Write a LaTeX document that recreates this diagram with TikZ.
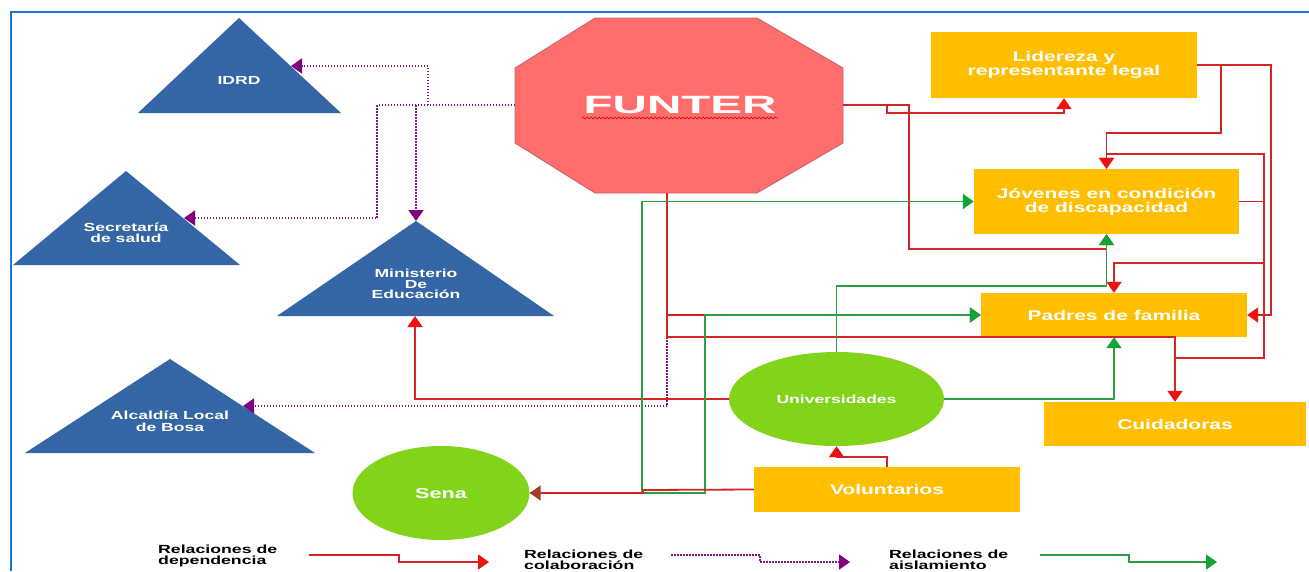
\documentclass[tikz,border=0pt]{standalone}
\usepackage{fontspec}
\newfontfamily\lab[FakeStretch=1.5]{Liberation Sans}
\newfontfamily\funt[FakeStretch=1.9]{Liberation Sans}
\usetikzlibrary{arrows.meta,shapes.geometric,decorations.pathmorphing}
\definecolor{tri}{HTML}{3465A4}
\definecolor{octf}{HTML}{FF6D6D}
\definecolor{octd}{HTML}{C5606A}
\definecolor{gold}{HTML}{FFBF00}
\definecolor{lgreen}{HTML}{81D41A}
\definecolor{depred}{HTML}{D42424}
\definecolor{arrred}{HTML}{EE1111}
\definecolor{isog}{HTML}{2E9E44}
\definecolor{arrg}{HTML}{14A335}
\definecolor{colp}{HTML}{7D1A7D}
\definecolor{arrp}{HTML}{800080}
\definecolor{frameblue}{HTML}{1C75D8}
\definecolor{mixtip}{HTML}{A33C28}
\begin{document}
\begin{tikzpicture}[x=1pt,y=-1pt,
  box/.style={rectangle, fill=gold, inner sep=0pt, text=white, align=center,
    font=\lab\bfseries\fontsize{14}{14}\selectfont},
  blob/.style={ellipse, fill=lgreen, inner sep=0pt, text=white, align=center},
  tlabel/.style={text=white, inner sep=0pt, align=center,
    font=\lab\bfseries\fontsize{11.7}{11}\selectfont},
  leg/.style={text=black, inner sep=0pt, align=left, anchor=north west,
    font=\lab\bfseries\fontsize{11.8}{10.5}\selectfont},
  dep/.style={draw=depred, line width=1.8pt, -{Triangle[length=11pt 0 0,width=15pt 0 0,color=arrred]}},
  iso/.style={draw=isog, line width=1.8pt, -{Triangle[length=11pt 0 0,width=15pt 0 0,color=arrg]}},
  col/.style={draw=colp, line width=1.7pt, dash pattern=on 1.5pt off 1.5pt, -{Triangle[length=11pt 0 0,width=15pt 0 0,color=arrp]}},
  mixarrow/.style={draw=depred, line width=1.8pt, -{Triangle[length=11pt 0 0,width=15pt 0 0,color=mixtip]}}
]
\useasboundingbox (0,0) rectangle (1309,571);
\fill[white] (0,0) rectangle (1309,571);
\draw[frameblue, line width=2pt] (11,571) -- (11,12) -- (1309,12);

% ---- triangles (blue) ----
\fill[tri] (239,18) -- (138,113) -- (341,113) -- cycle;
\fill[tri] (126,171) -- (13,265) -- (240,265) -- cycle;
\fill[tri] (416,221) -- (277,316) -- (554,316) -- cycle;
\fill[tri] (170,359) -- (25,453) -- (315,453) -- cycle;
\node[tlabel] (idrd) at (239,80) {IDRD};
\node[tlabel] (sec) at (126,233) {Secretaría\\de salud};
\node[tlabel, font=\lab\bfseries\fontsize{11.7}{10.5}\selectfont] (min) at (416,284) {Ministerio\\De\\Educación};
\node[tlabel, font=\lab\bfseries\fontsize{11.7}{12}\selectfont] (alc) at (170,421) {Alcaldía Local\\de Bosa};
\coordinate (idrdE) at (291,66);
\coordinate (secE) at (184,218);
\coordinate (minN) at (416,221);
\coordinate (minS) at (415,316);
\coordinate (alcE) at (243,406);

% ---- octagon ----
\filldraw[fill=octf, draw=octd, line width=0.8pt]
  (595,18) -- (757,18) -- (843,68) -- (843,143) -- (757,193) -- (595,193) -- (515,143) -- (515,68) -- cycle;
\node[text=white, inner sep=0pt, font=\funt\bfseries\fontsize{25}{25}\selectfont] (funter) at (680,105) {FUNTER};
\draw[red!80!black, line width=0.6pt, decorate, decoration={snake, segment length=4pt, amplitude=0.9pt}] (582,118) -- (778,118);
\coordinate (fE) at (843,105);
\coordinate (fW) at (515,105);
\coordinate (fS) at (667,193);

% ---- boxes ----
\node[box, minimum width=266pt, minimum height=66pt] (lid) at (1064,65) {Lidereza y\\representante legal};
\node[box, minimum width=265pt, minimum height=65pt] (jov) at (1106.5,201.5) {Jóvenes en condición\\de discapacidad};
\node[box, minimum width=266pt, minimum height=44pt] (pad) at (1114,315) {Padres de familia};
\node[box, minimum width=262pt, minimum height=44pt] (cui) at (1175,424) {Cuidadoras};
\node[box, minimum width=266pt, minimum height=45pt] (vol) at (887,489.5) {Voluntarios};
\node[blob, minimum width=215pt, minimum height=94pt, font=\lab\bfseries\fontsize{11.7}{12}\selectfont] (uni) at (836.5,399) {Universidades};
\node[blob, minimum width=177pt, minimum height=94pt, font=\lab\bfseries\fontsize{14.5}{14}\selectfont] (sena) at (441,493) {Sena};

% ---- collaboration (purple dotted) ----
\draw[col] (fW) -- (428,105) |- (idrdE);
\draw[col] (fW) -- (377,105) |- (secE);
\draw[col] (fW) -| (minN);
\draw[col] (fS) |- (alcE);

% ---- dependence (red) ----
\draw[dep] (fE) -- (887,105) -- (887,113) -| (lid.south);
\draw[dep] (fE) -- (909,105) -- (909,249) -| (jov.south);
\draw[dep] (lid.east) -- (1221,65) -- (1221,133) -| (jov.north);
\draw[dep] (lid.east) -- (1271,65) |- (pad.east);
\draw[dep] (jov.east) -- (1264,201.5) -- (1264,263) -| (pad.north);
\draw[dep] (pad.south -| cui.north) -- (1175,358) -- (1264,358) -- (1264,154) -| (jov.north);
\draw[dep] (fS) -- (667,337) -| (cui.north);
\draw[dep] (fS) |- (pad.west);
\draw[dep] (uni.west) -| (minS);
\draw[dep] (vol.north) -- (887,457) -| (uni.south);

% ---- isolation (green) ----
\draw[iso] (sena.east) -- (642,493) |- (jov.west);
\draw[iso] (sena.east) -- (705,493) |- (pad.west);
\draw[iso] (uni.north) -- ++(0,-66) -| (jov.south);
\draw[iso] (uni.east) -| (pad.south);
\draw[mixarrow] (vol.west) -- (643,490) -- (643,493) -- (sena.east);

% ---- legend ----
\node[leg] (leg1) at (158,545) {Relaciones de\\dependencia};
\node[leg] (leg2) at (524,550) {Relaciones de\\colaboración};
\node[leg] (leg3) at (889,550) {Relaciones de\\aislamiento};
\coordinate (l1a) at (309,555); \coordinate (l1b) at (489,562);
\coordinate (l2a) at (671,555); \coordinate (l2b) at (850,562);
\coordinate (l3a) at (1040,555); \coordinate (l3b) at (1217,562);
\draw[dep] (l1a) -- (399,555) -- (399,562) -- (l1b);
\draw[col] (l2a) -- (760,555) -- (760,562) -- (l2b);
\draw[iso] (l3a) -- (1129,555) -- (1129,562) -- (l3b);
\end{tikzpicture}
\end{document}
